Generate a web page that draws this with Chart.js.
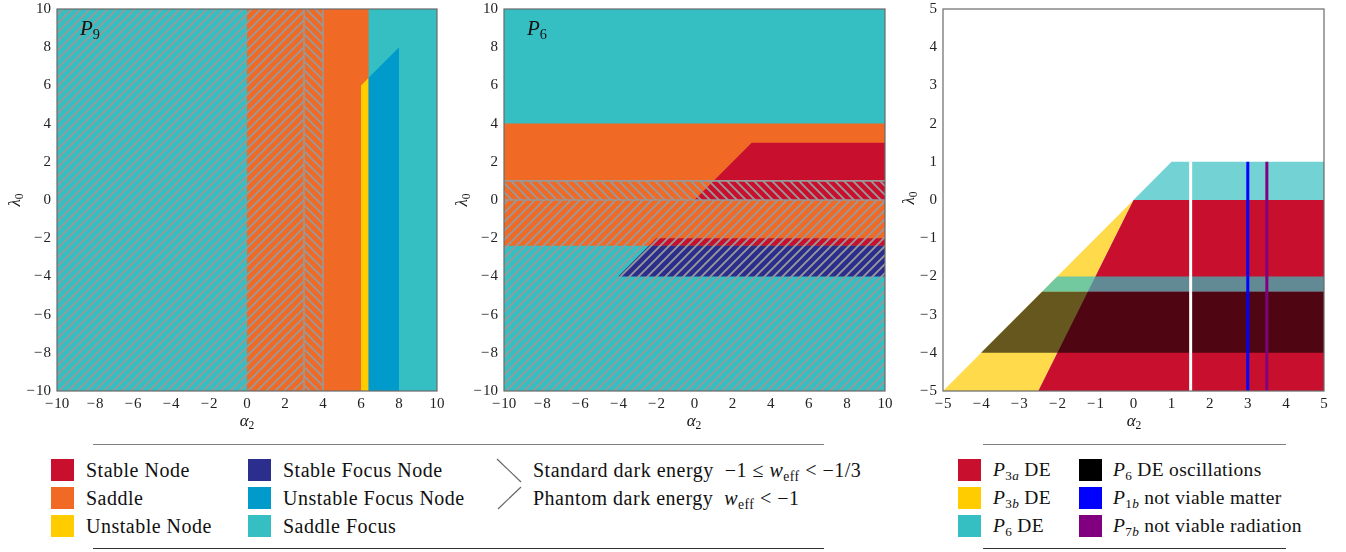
<!DOCTYPE html>
<html>
<head>
<meta charset="utf-8">
<script src="https://cdn.jsdelivr.net/npm/chart.js@4.4.1/dist/chart.umd.min.js"></script>
<style>
  body { margin: 0; background: #fff; }
  #page { position: relative; width: 1346px; height: 552px; overflow: hidden; font-family: 'Liberation Serif', serif; color: #111; }
  canvas { position: absolute; top: 0; }
  .t { position: absolute; white-space: nowrap; }
  .lab { font-size: 21px; }
  .ax { font-size: 17px; }
  .ylab { transform: translate(-50%, -50%) rotate(-90deg); }
  .xlab { transform: translate(-50%, -50%); }
  sub { font-size: 68%; vertical-align: -0.3em; line-height: 0; }
  .sw { position: absolute; width: 23px; height: 22px; }
  .lt { position: absolute; font-size: 20px; letter-spacing: 0.5px; line-height: 22px; white-space: nowrap; }
  .rt { letter-spacing: 0.3px; font-size: 19.5px; }
  .rule { position: absolute; height: 0; }
</style>
</head>
<body>
<div id="page">
  <canvas id="c1" width="445" height="430" style="left:0px"></canvas>
  <canvas id="c2" width="446" height="430" style="left:447px"></canvas>
  <canvas id="c3" width="446" height="430" style="left:886px"></canvas>

  <div class="t lab" style="left:80px;top:16px"><i>P</i><sub>9</sub></div>
  <div class="t lab" style="left:527px;top:16px"><i>P</i><sub>6</sub></div>

  <div class="t ax ylab" style="left:15px;top:200px"><i>λ</i><sub>0</sub></div>
  <div class="t ax ylab" style="left:462px;top:200px"><i>λ</i><sub>0</sub></div>
  <div class="t ax ylab" style="left:909px;top:198px"><i>λ</i><sub>0</sub></div>
  <div class="t ax xlab" style="left:247px;top:421px"><i>α</i><sub>2</sub></div>
  <div class="t ax xlab" style="left:694px;top:421px"><i>α</i><sub>2</sub></div>
  <div class="t ax xlab" style="left:1134px;top:421px"><i>α</i><sub>2</sub></div>

  <!-- left legend -->
  <div class="rule" style="left:93px;top:444px;width:731px;border-top:1.5px solid #808080"></div>
  <div class="rule" style="left:93px;top:548px;width:731px;border-top:1.5px solid #333"></div>
  <div class="sw" style="left:51px;top:459px;background:#C8102E"></div>
  <div class="lt" style="left:86px;top:459px">Stable Node</div>
  <div class="sw" style="left:51px;top:487px;background:#F06A26"></div>
  <div class="lt" style="left:86px;top:487px">Saddle</div>
  <div class="sw" style="left:51px;top:515px;background:#FFCC00"></div>
  <div class="lt" style="left:86px;top:515px">Unstable Node</div>
  <div class="sw" style="left:248px;top:459px;background:#2B2E8C"></div>
  <div class="lt" style="left:283px;top:459px">Stable Focus Node</div>
  <div class="sw" style="left:248px;top:487px;background:#009BCB"></div>
  <div class="lt" style="left:283px;top:487px">Unstable Focus Node</div>
  <div class="sw" style="left:248px;top:515px;background:#36BFC2"></div>
  <div class="lt" style="left:283px;top:515px">Saddle Focus</div>
  <svg style="position:absolute;left:495px;top:456px" width="30" height="58">
    <line x1="2" y1="3" x2="26" y2="26" stroke="#666" stroke-width="1.2"/>
    <line x1="26" y1="31" x2="3" y2="53" stroke="#666" stroke-width="1.2"/>
  </svg>
  <div class="lt" style="left:533px;top:459px">Standard dark energy&nbsp; −1 ≤ <i>w</i><sub>eff</sub> &lt; −1/3</div>
  <div class="lt" style="left:533px;top:487px">Phantom dark energy&nbsp; <i>w</i><sub>eff</sub> &lt; −1</div>

  <!-- right legend -->
  <div class="rule" style="left:983px;top:444px;width:303px;border-top:1.5px solid #808080"></div>
  <div class="rule" style="left:983px;top:548px;width:303px;border-top:1.5px solid #333"></div>
  <div class="sw" style="left:958px;top:459px;background:#C8102E"></div>
  <div class="lt rt" style="left:993px;top:459px"><i>P</i><sub>3<i>a</i></sub> DE</div>
  <div class="sw" style="left:958px;top:487px;background:#FFCC00"></div>
  <div class="lt rt" style="left:993px;top:487px"><i>P</i><sub>3<i>b</i></sub> DE</div>
  <div class="sw" style="left:958px;top:515px;background:#36BFC2"></div>
  <div class="lt rt" style="left:993px;top:515px"><i>P</i><sub>6</sub> DE</div>
  <div class="sw" style="left:1079px;top:459px;background:#000"></div>
  <div class="lt rt" style="left:1113px;top:459px"><i>P</i><sub>6</sub> DE oscillations</div>
  <div class="sw" style="left:1079px;top:487px;background:#0000FF"></div>
  <div class="lt rt" style="left:1113px;top:487px"><i>P</i><sub>1<i>b</i></sub> not viable matter</div>
  <div class="sw" style="left:1079px;top:515px;background:#800080"></div>
  <div class="lt rt" style="left:1113px;top:515px"><i>P</i><sub>7<i>b</i></sub> not viable radiation</div>
</div>

<script>
// tick values
const ticksWide = [-10, -8, -6, -4, -2, 0, 2, 4, 6, 8, 10];
const ticksNarrow = [-5, -4, -3, -2, -1, 0, 1, 2, 3, 4, 5];

// P9 panel regions (alpha_2, lambda_0)
const p9SaddleFocus = [[-10, -10], [10, -10], [10, 10], [-10, 10]];
const p9Saddle = [[0, -10], [6.4, -10], [6.4, 10], [0, 10]];
const p9UnstableNode = [[6, -10], [6.4, -10], [6.4, 6.4], [6, 6]];
const p9UnstableFocus = [[6.4, -10], [8, -10], [8, 8], [6.4, 6.4]];
const p9Phantom = [[-10, -10], [3, -10], [3, 10], [-10, 10]];
const p9Standard = [[3, -10], [4, -10], [4, 10], [3, 10]];
const p9Edges = [3, 4];

// P6 panel regions
const p6SaddleFocus = [[-10, -10], [10, -10], [10, 10], [-10, 10]];
const p6Saddle = [[-10, -2.4], [10, -2.4], [10, 4], [-10, 4]];
const p6StableUpper = [[0, 0], [3, 3], [10, 3], [10, 0]];
const p6StableLower = [[-2.4, -2.4], [-2, -2], [10, -2], [10, -2.4]];
const p6StableFocus = [[-4, -4], [-2.4, -2.4], [10, -2.4], [10, -4]];
const p6Standard = [[-10, 0], [10, 0], [10, 1], [-10, 1]];
const p6Phantom = [[-10, -10], [10, -10], [10, 0], [-10, 0]];
const p6Edges = [0, 1];

// dark energy summary panel
const deP3b = [[-5, -5], [0, 0], [-2.5, -5]];
const deP3a = [[-2.5, -5], [0, 0], [5, 0], [5, -5]];
const deP6 = [[0, 0], [1, 1], [5, 1], [5, 0]];
const deP6Band = [[-2.4, -2.4], [-2, -2], [5, -2], [5, -2.4]];
const deP6Osc = [[-4, -4], [-2.4, -2.4], [5, -2.4], [5, -4]];
const deLineBottom = -5;
const deLineTop = 1;
const deWhiteLine = 1.5;
const deP1bLine = 3;
const deP7bLine = 3.5;

const COLORS = {
  stableNode: '#C8102E',
  saddle: '#F06A26',
  unstableNode: '#FFCC00',
  stableFocus: '#2B2E8C',
  unstableFocus: '#009BCB',
  saddleFocus: '#36BFC2',
  hatch: '#999999'
};

function makeHatch(dir) {
  const s = 9;
  const c = document.createElement('canvas');
  c.width = s; c.height = s;
  const g = c.getContext('2d');
  g.strokeStyle = COLORS.hatch;
  g.lineWidth = 1.9;
  g.beginPath();
  if (dir === '/') {
    g.moveTo(-1, s + 1); g.lineTo(s + 1, -1);
    g.moveTo(-2, 2); g.lineTo(2, -2);
    g.moveTo(s - 2, s + 2); g.lineTo(s + 2, s - 2);
  } else {
    g.moveTo(-1, -1); g.lineTo(s + 1, s + 1);
    g.moveTo(s - 2, -2); g.lineTo(s + 2, 2);
    g.moveTo(-2, s - 2); g.lineTo(2, s + 2);
  }
  g.stroke();
  return g.createPattern(c, 'repeat');
}
const hatchPhantom = makeHatch('/');
const hatchStandard = makeHatch('\\');

function poly(points, color) {
  const pts = points.map(p => ({ x: p[0], y: p[1] }));
  pts.push({ x: points[0][0], y: points[0][1] });
  return {
    data: pts,
    showLine: true,
    fill: 'shape',
    backgroundColor: color,
    borderColor: 'transparent',
    borderWidth: 0,
    pointRadius: 0,
    tension: 0
  };
}

function seg(a, b, color, width) {
  return {
    data: [{ x: a[0], y: a[1] }, { x: b[0], y: b[1] }],
    showLine: true,
    fill: false,
    borderColor: color,
    borderWidth: width,
    pointRadius: 0,
    tension: 0
  };
}

const framePlugin = {
  id: 'frame',
  afterDatasetsDraw(chart) {
    const a = chart.chartArea;
    const ctx = chart.ctx;
    ctx.save();
    ctx.strokeStyle = '#6a6a6a';
    ctx.lineWidth = 1.2;
    ctx.strokeRect(a.left, a.top, a.right - a.left, a.bottom - a.top);
    ctx.restore();
  }
};

function fmt(v) {
  return v < 0 ? '\u2212\u200A' + Math.abs(v) : String(v);
}

function makeChart(id, datasets, tickVals) {
  const lo = tickVals[0], hi = tickVals[tickVals.length - 1];
  // bottom layers listed first
  datasets.forEach((d, i) => { d.order = datasets.length - i; });
  const tickFont = { family: "'Liberation Serif', serif", size: 15 };
  return new Chart(document.getElementById(id), {
    type: 'scatter',
    data: { datasets },
    options: {
      responsive: false,
      animation: false,
      devicePixelRatio: 1,
      layout: { padding: { left: 0, top: 9, right: 8, bottom: 0 } },
      plugins: { legend: { display: false }, tooltip: { enabled: false } },
      scales: {
        x: {
          type: 'linear', min: lo, max: hi,
          afterBuildTicks: s => { s.ticks = tickVals.map(v => ({ value: v })); },
          afterFit: s => { s.height = 39; s.paddingLeft = 0; s.paddingRight = 0; },
          grid: { display: false, drawTicks: false },
          border: { display: false },
          ticks: { color: '#222', font: tickFont, padding: 4, callback: fmt, maxRotation: 0, autoSkip: false }
        },
        y: {
          type: 'linear', min: lo, max: hi,
          afterBuildTicks: s => { s.ticks = tickVals.map(v => ({ value: v })); },
          afterFit: s => { s.width = 57; s.paddingTop = 0; s.paddingBottom = 0; },
          grid: { display: false, drawTicks: false },
          border: { display: false },
          ticks: { color: '#222', font: tickFont, padding: 6, callback: fmt, autoSkip: false }
        }
      }
    },
    plugins: [framePlugin]
  });
}

makeChart('c1', [
  poly(p9SaddleFocus, COLORS.saddleFocus),
  poly(p9Saddle, COLORS.saddle),
  poly(p9UnstableNode, COLORS.unstableNode),
  poly(p9UnstableFocus, COLORS.unstableFocus),
  poly(p9Phantom, hatchPhantom),
  poly(p9Standard, hatchStandard),
  ...p9Edges.map(x => seg([x, -10], [x, 10], COLORS.hatch, 1.6))
], ticksWide);

makeChart('c2', [
  poly(p6SaddleFocus, COLORS.saddleFocus),
  poly(p6Saddle, COLORS.saddle),
  poly(p6StableUpper, COLORS.stableNode),
  poly(p6StableLower, COLORS.stableNode),
  poly(p6StableFocus, COLORS.stableFocus),
  poly(p6Standard, hatchStandard),
  poly(p6Phantom, hatchPhantom),
  ...p6Edges.map(y => seg([-10, y], [10, y], COLORS.hatch, 1.6))
], ticksWide);

makeChart('c3', [
  poly(deP3b, 'rgba(255,204,0,0.7)'),
  poly(deP3a, COLORS.stableNode),
  poly(deP6, 'rgba(54,191,194,0.7)'),
  poly(deP6Band, 'rgba(54,191,194,0.7)'),
  poly(deP6Osc, 'rgba(0,0,0,0.6)'),
  seg([deWhiteLine, deLineBottom], [deWhiteLine, deLineTop], '#ffffff', 3),
  seg([deP1bLine, deLineBottom], [deP1bLine, deLineTop], '#0000FF', 3),
  seg([deP7bLine, deLineBottom], [deP7bLine, deLineTop], '#800080', 3)
], ticksNarrow);
</script>
</body>
</html>
